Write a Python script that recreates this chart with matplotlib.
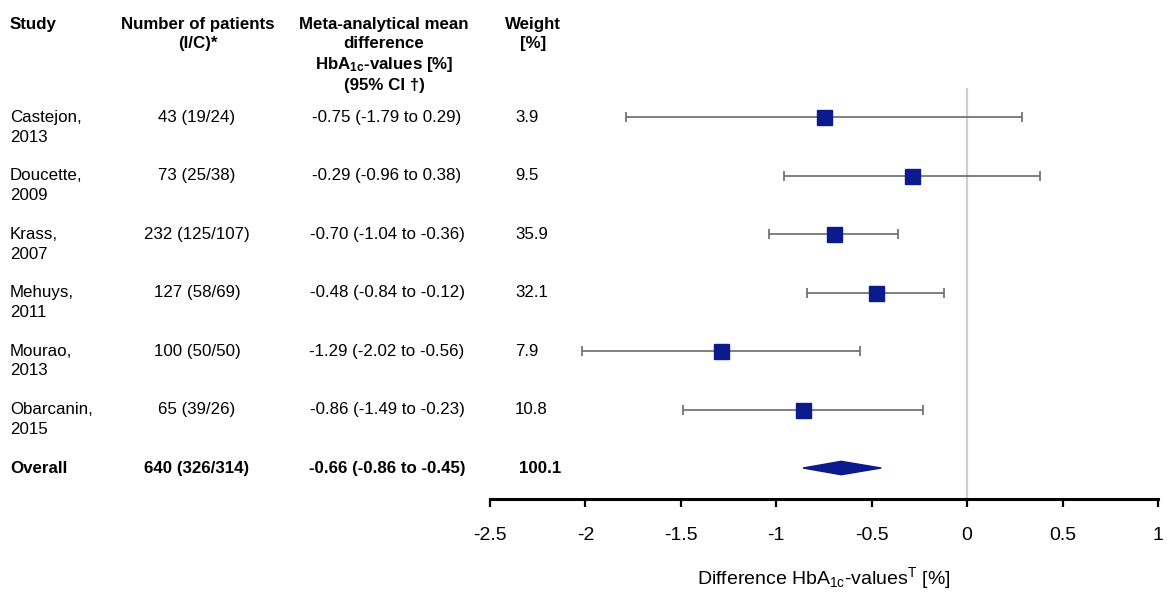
import matplotlib
matplotlib.use("Agg")
import matplotlib.pyplot as plt
import matplotlib.transforms as mtransforms
from matplotlib.patches import Polygon

plt.rcParams['font.family'] = ['Liberation Sans', 'DejaVu Sans']
plt.rcParams['mathtext.fontset'] = 'custom'
plt.rcParams['mathtext.rm'] = 'Liberation Sans'
plt.rcParams['mathtext.it'] = 'Liberation Sans'
plt.rcParams['mathtext.bf'] = 'Liberation Sans:bold'

# Study-level data
study_names = ["Castejon,", "Doucette,", "Krass,", "Mehuys,", "Mourao,", "Obarcanin,"]
study_years = ["2013", "2009", "2007", "2011", "2013", "2015"]
patients = ["43 (19/24)", "73 (25/38)", "232 (125/107)", "127 (58/69)",
            "100 (50/50)", "65 (39/26)"]
mean_diff = [-0.75, -0.29, -0.70, -0.48, -1.29, -0.86]
ci_low = [-1.79, -0.96, -1.04, -0.84, -2.02, -1.49]
ci_high = [0.29, 0.38, -0.36, -0.12, -0.56, -0.23]
weights = ["3.9", "9.5", "35.9", "32.1", "7.9", "10.8"]

# Pooled estimate
overall_label = "Overall"
overall_patients = "640 (326/314)"
overall_mean = -0.66
overall_low = -0.86
overall_high = -0.45
overall_weight = "100.1"

x_ticks = [-2.5, -2, -1.5, -1, -0.5, 0, 0.5, 1]
x_tick_labels = ["-2.5", "-2", "-1.5", "-1", "-0.5", "0", "0.5", "1"]

W, H = 1167, 594
fig = plt.figure(figsize=(W / 100, H / 100), dpi=100)
ax = fig.add_axes([490 / W, 95 / H, 668 / W, 411 / H])

fs = 12.2
navy = "#0b1a8c"
rows = list(range(len(study_names)))
overall_row = len(study_names)

ax.set_xlim(-2.5, 1)
ax.set_ylim(overall_row + 0.53, -0.5)

# reference line at zero
ax.axvline(0, color="#cfcfcf", lw=1.6, zorder=0)

# confidence intervals and point estimates
for r, m, lo, hi in zip(rows, mean_diff, ci_low, ci_high):
    ax.errorbar(m, r, xerr=[[m - lo], [hi - m]], fmt="none", ecolor="#6a6a6a",
                elinewidth=1.2, capsize=3.8, capthick=1.2, zorder=2)
    ax.plot(m, r, marker="s", markersize=10.8, color=navy, markeredgecolor=navy,
            zorder=3)

# pooled diamond
dh = 0.115
ax.add_patch(Polygon([[overall_low, overall_row], [overall_mean, overall_row - dh],
                      [overall_high, overall_row], [overall_mean, overall_row + dh]],
                     closed=True, facecolor=navy, edgecolor=navy, zorder=3))

for s in ["top", "left", "right"]:
    ax.spines[s].set_visible(False)
ax.spines["bottom"].set_linewidth(2.2)
ax.set_yticks([])
ax.set_xticks(x_ticks)
ax.set_xticklabels(x_tick_labels, fontsize=14)
ax.tick_params(axis="x", direction="out", length=5.5, width=1.6, pad=15)
ax.set_xlabel(r"Difference HbA$_{1c}$-values$^{\mathrm{T}}$ [%]", fontsize=14,
              labelpad=15)

# table columns, x in figure fraction, y in data rows
trans = mtransforms.blended_transform_factory(fig.transFigure, ax.transData)
x_study = 10 / W
x_pat = 197 / W
x_md = 387 / W
x_w = 515 / W
year_off = 0.34

for r, name, yr, p, m, lo, hi, w in zip(rows, study_names, study_years, patients,
                                        mean_diff, ci_low, ci_high, weights):
    ax.text(x_study, r, name, transform=trans, ha="left", va="center", fontsize=fs)
    ax.text(x_study, r + year_off, yr, transform=trans, ha="left", va="center",
            fontsize=fs)
    ax.text(x_pat, r, p, transform=trans, ha="center", va="center", fontsize=fs)
    ax.text(x_md, r, f"{m:.2f} ({lo:.2f} to {hi:.2f})", transform=trans,
            ha="center", va="center", fontsize=fs)
    ax.text(x_w, r, w, transform=trans, ha="left", va="center", fontsize=fs)

ax.text(x_study, overall_row, overall_label, transform=trans, ha="left",
        va="center", fontsize=fs, fontweight="bold")
ax.text(x_pat, overall_row, overall_patients, transform=trans, ha="center",
        va="center", fontsize=fs, fontweight="bold")
ax.text(x_md, overall_row,
        f"{overall_mean:.2f} ({overall_low:.2f} to {overall_high:.2f})",
        transform=trans, ha="center", va="center", fontsize=fs, fontweight="bold")
ax.text(519 / W, overall_row, overall_weight, transform=trans, ha="left",
        va="center", fontsize=fs, fontweight="bold")

# column headers
hy = 1 - 17 / H
ls = 1.32
fig.text(x_study, hy, "Study", ha="left", va="top", fontsize=fs, fontweight="bold")
fig.text(198 / W, hy, "Number of patients\n(I/C)*", ha="center", va="top",
         fontsize=fs, fontweight="bold", linespacing=ls, multialignment="center")
fig.text(384 / W, hy,
         "Meta-analytical mean\ndifference\n" + r"HbA$_{\mathbf{1c}}$-values [%]"
         + "\n(95% CI †)",
         ha="center", va="top", fontsize=fs, fontweight="bold", linespacing=ls,
         multialignment="center")
fig.text(533 / W, hy, "Weight\n[%]", ha="center", va="top", fontsize=fs,
         fontweight="bold", linespacing=ls, multialignment="center")

fig.savefig("out.png", dpi=100)
